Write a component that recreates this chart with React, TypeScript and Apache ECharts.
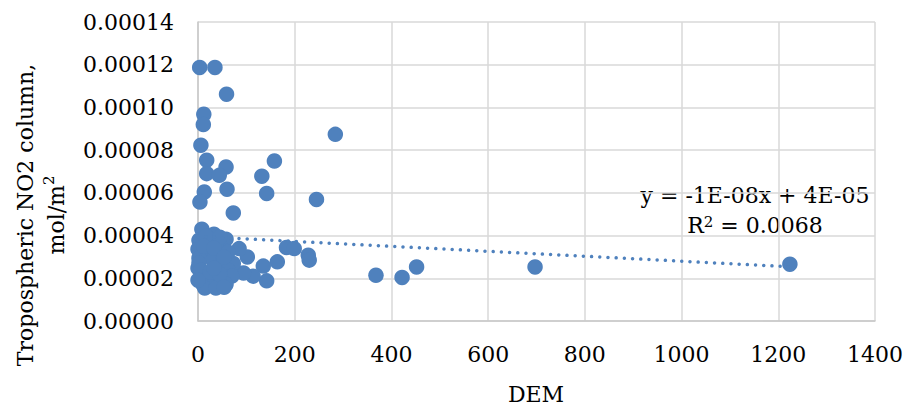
import React, { useEffect, useRef } from "react";
import * as echarts from "echarts";

// DEM values (x) and tropospheric NO2 column values (y)
const demValues: number[] = [
  3.5, 35, 59, 12, 11, 6, 18, 58, 18, 44,
  158, 132, 284, 60, 142, 13, 4, 73, 245, 183,
  199, 228, 230, 164, 135, 142, 114, 94, 102, 85,
  368, 422, 452, 697, 1224, 73, 50,
  8, 33, 58, 2, 23, 45, 0, 14, 35, 62,
  2, 31, 50, 0, 41, 62, 6, 25, 70, 10,
  33, 58, 14, 37, 2,
  16.5, 45, 12, 33, 54, 6, 25, 45, 33, 54, 0,
];
const no2Values: number[] = [
  0.0001187, 0.0001187, 0.0001062, 0.0000968, 0.000092, 0.0000823, 0.0000753, 0.0000721, 0.000069, 0.0000682,
  0.0000749, 0.0000678, 0.0000874, 0.0000617, 0.0000597, 0.0000604, 0.0000557, 0.0000506, 0.0000569, 0.0000344,
  0.0000339, 0.0000308, 0.0000285, 0.0000277, 0.0000257, 0.0000188, 0.000021, 0.0000225, 0.00003, 0.0000339,
  0.0000214, 0.0000204, 0.0000253, 0.0000253, 0.0000266, 0.0000269, 0.0000191,
  0.000043, 0.0000406, 0.0000383, 0.0000378, 0.0000359, 0.000035, 0.0000336, 0.0000322, 0.0000313, 0.0000322,
  0.0000294, 0.0000285, 0.0000275, 0.0000247, 0.0000247, 0.0000238, 0.000021, 0.00002, 0.000021, 0.0000172,
  0.0000168, 0.0000172, 0.0000154, 0.0000154, 0.0000271,
  0.0000397, 0.0000392, 0.000035, 0.0000341, 0.0000299, 0.0000238, 0.0000228, 0.0000219, 0.0000247, 0.0000158, 0.0000191,
];

// Trendline (label rounds these)
const trendIntercept = 0.0000396;
const trendSlope = -0.0000000116;
const equationText = "y = -1E-08x + 4E-05";
const r2Value = "0.0068";

const xTicks = { min: 0, max: 1400, interval: 200 };
const yTicks = { min: 0, max: 0.00014, interval: 0.00002 };

const FONT = "'DejaVu Serif', 'Liberation Serif', serif";
const FS = 22;
const BLUE = "#4f81bd";

export default function App() {
  const ref = useRef<HTMLDivElement>(null);
  useEffect(() => {
    if (!ref.current) return;
    const chart = echarts.init(ref.current, undefined, { renderer: "svg" });
    const points = demValues.map((d, i) => [d, no2Values[i]]);
    const xMin = Math.min(...demValues);
    const xMax = Math.max(...demValues);
    const trend = [
      [xMin, trendIntercept + trendSlope * xMin],
      [xMax, trendIntercept + trendSlope * xMax],
    ];
    chart.setOption({
      animation: false,
      backgroundColor: "#ffffff",
      grid: { left: 198, right: 34, top: 22, bottom: 91, containLabel: false },
      xAxis: {
        type: "value",
        min: xTicks.min,
        max: xTicks.max,
        interval: xTicks.interval,
        axisLine: { show: true, lineStyle: { color: "#c8c8c8", width: 1.5 } },
        axisTick: { show: false },
        splitLine: { show: true, lineStyle: { color: "#d9d9d9", width: 1.5 } },
        axisLabel: {
          color: "#000",
          fontFamily: FONT,
          fontSize: FS,
          margin: 22,
          formatter: (v: number) => String(v),
        },
      },
      yAxis: {
        type: "value",
        min: yTicks.min,
        max: yTicks.max,
        interval: yTicks.interval,
        axisLine: { show: true, lineStyle: { color: "#c8c8c8", width: 1.5 } },
        axisTick: { show: false },
        splitLine: { show: true, lineStyle: { color: "#d9d9d9", width: 1.5 } },
        axisLabel: {
          color: "#000",
          fontFamily: FONT,
          fontSize: FS,
          margin: 24,
          formatter: (v: number) => v.toFixed(5),
        },
      },
      series: [
        {
          type: "scatter",
          data: points,
          symbol: "circle",
          symbolSize: 15.5,
          itemStyle: { color: BLUE, borderWidth: 0, opacity: 1 },
          z: 2,
        },
        {
          type: "line",
          data: trend,
          showSymbol: false,
          symbol: "none",
          lineStyle: { color: BLUE, width: 3.5, type: [0.01, 8.2], cap: "round" },
          z: 3,
        },
      ],
      graphic: [
        {
          type: "text",
          x: 41,
          y: 215,
          rotation: Math.PI / 2,
          style: {
            text: "Tropospheric NO2 column,\nmol/m{sup|2}",
            fill: "#000",
            fontFamily: FONT,
            fontSize: FS,
            align: "center",
            verticalAlign: "middle",
            lineHeight: 31,
            rich: {
              sup: { fontSize: 15, fontFamily: FONT, verticalAlign: "top", fill: "#000" },
            },
          },
        },
        {
          type: "text",
          x: 536,
          y: 394,
          style: {
            text: "DEM",
            fill: "#000",
            fontFamily: FONT,
            fontSize: FS,
            align: "center",
            verticalAlign: "middle",
          },
        },
        {
          type: "text",
          x: 755,
          y: 195,
          style: {
            text: equationText,
            fill: "#000",
            fontFamily: FONT,
            fontSize: FS,
            align: "center",
            verticalAlign: "middle",
          },
        },
        {
          type: "text",
          x: 755,
          y: 225,
          style: {
            text: "R{sup|2} = " + r2Value,
            fill: "#000",
            fontFamily: FONT,
            fontSize: FS,
            align: "center",
            verticalAlign: "middle",
            rich: {
              sup: { fontSize: 15, fontFamily: FONT, verticalAlign: "top", fill: "#000" },
            },
          },
        },
      ],
    });
    return () => chart.dispose();
  }, []);
  return (
    <div
      ref={ref}
      style={{ position: "fixed", left: 0, top: 0, width: 909, height: 412, background: "#fff" }}
    />
  );
}
